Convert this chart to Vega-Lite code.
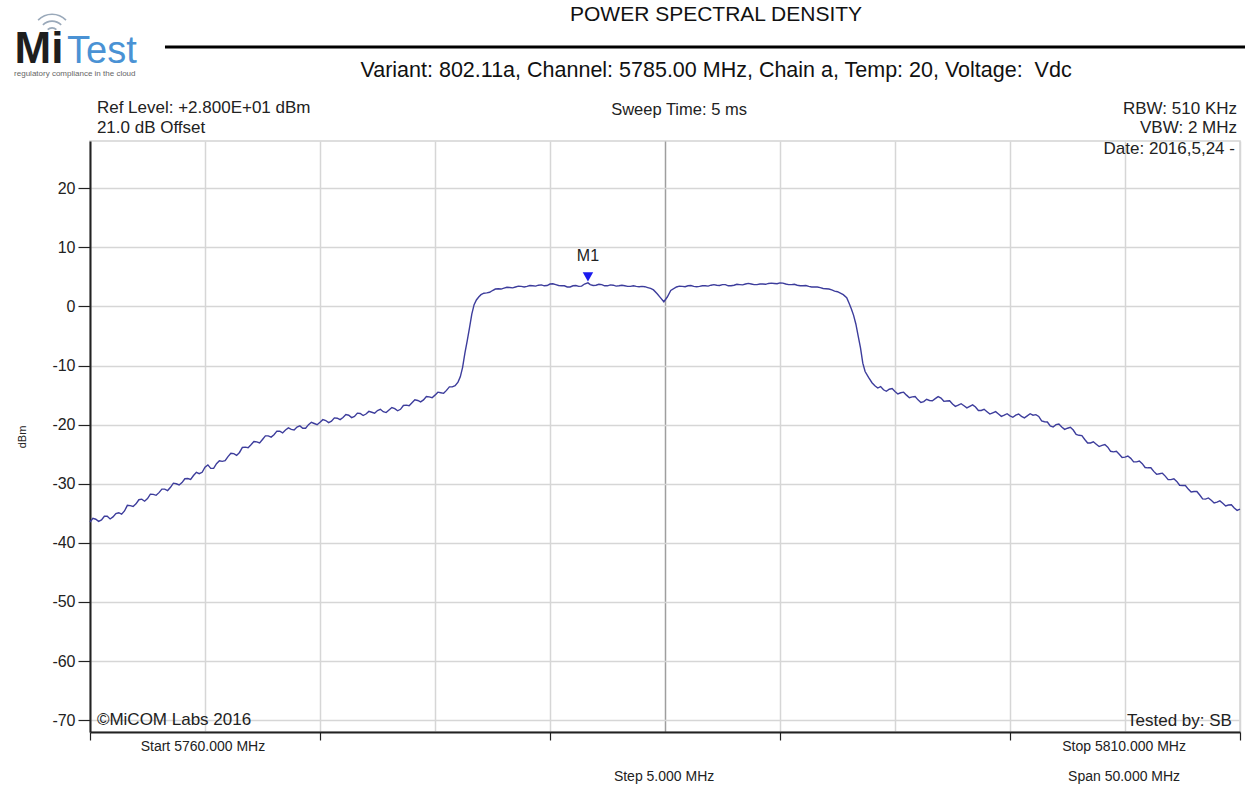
{
  "$schema": "https://vega.github.io/schema/vega-lite/v6.json",
  "width": 1150,
  "height": 591,
  "autosize": {"type": "none"},
  "padding": {"left": 90, "top": 141, "right": 5, "bottom": 56},
  "background": "white",
  "config": {"font": "Liberation Sans", "view": {"stroke": "#d3d3d3", "strokeWidth": 1.5}},
  "encoding": {
    "x": {
      "field": "f", "type": "quantitative",
      "scale": {"domain": [5760, 5810], "nice": false, "zero": false},
      "axis": {
        "values": [5760, 5765, 5770, 5775, 5780, 5785, 5790, 5795, 5800, 5805, 5810],
        "labels": false, "title": null, "grid": true,
        "gridColor": {"condition": {"test": "datum.value === 5785", "value": "#9e9e9e"}, "value": "#d6d6d6"},
        "gridWidth": 1.5,
        "tickSize": 8, "tickColor": "#222", "tickWidth": 1.2,
        "tickOpacity": {"condition": {"test": "datum.value % 10 === 0", "value": 1}, "value": 0},
        "domainColor": "#222", "domainWidth": 2
      }
    },
    "y": {
      "field": "db", "type": "quantitative",
      "scale": {"domain": [-72, 28], "nice": false, "zero": false},
      "axis": {
        "values": [-70, -60, -50, -40, -30, -20, -10, 0, 10, 20],
        "labelExpr": "toString(datum.value)",
        "title": "dBm", "titleFontSize": 11, "titleFontWeight": "normal", "titlePadding": 24, "titleColor": "#222",
        "grid": true, "gridColor": "#d6d6d6", "gridWidth": 1.5,
        "tickSize": 12, "tickColor": "#222", "tickWidth": 1.2,
        "labelFontSize": 16, "labelColor": "#222", "labelPadding": 3,
        "domainColor": "#222", "domainWidth": 2
      }
    }
  },
  "layer": [
    {
      "data": {"values": [
        {"f": 5760.00, "db": -36.5}, {"f": 5760.25, "db": -36.0}, {"f": 5760.50, "db": -36.1}, {"f": 5760.75, "db": -35.5},
        {"f": 5761.00, "db": -35.6}, {"f": 5761.25, "db": -34.9}, {"f": 5761.50, "db": -34.6}, {"f": 5761.75, "db": -33.7},
        {"f": 5762.00, "db": -33.4}, {"f": 5762.25, "db": -32.6}, {"f": 5762.50, "db": -32.5}, {"f": 5762.75, "db": -31.8},
        {"f": 5763.00, "db": -31.5}, {"f": 5763.25, "db": -30.9}, {"f": 5763.50, "db": -30.6}, {"f": 5763.75, "db": -30.0},
        {"f": 5764.00, "db": -29.8}, {"f": 5764.25, "db": -29.1}, {"f": 5764.50, "db": -28.6}, {"f": 5764.75, "db": -28.3},
        {"f": 5765.00, "db": -27.2}, {"f": 5765.25, "db": -27.4}, {"f": 5765.50, "db": -26.6}, {"f": 5765.75, "db": -26.2},
        {"f": 5766.00, "db": -25.4}, {"f": 5766.25, "db": -24.9}, {"f": 5766.50, "db": -24.7}, {"f": 5766.75, "db": -23.8},
        {"f": 5767.00, "db": -23.4}, {"f": 5767.25, "db": -22.9}, {"f": 5767.50, "db": -22.5}, {"f": 5767.75, "db": -21.9},
        {"f": 5768.00, "db": -21.7}, {"f": 5768.25, "db": -21.1}, {"f": 5768.50, "db": -20.9}, {"f": 5768.75, "db": -20.8},
        {"f": 5769.00, "db": -20.4}, {"f": 5769.25, "db": -20.6}, {"f": 5769.50, "db": -20.0}, {"f": 5769.75, "db": -19.8},
        {"f": 5770.00, "db": -19.6}, {"f": 5770.25, "db": -19.3}, {"f": 5770.50, "db": -19.4}, {"f": 5770.75, "db": -18.9},
        {"f": 5771.00, "db": -18.8}, {"f": 5771.25, "db": -18.4}, {"f": 5771.50, "db": -18.6}, {"f": 5771.75, "db": -18.1},
        {"f": 5772.00, "db": -18.2}, {"f": 5772.25, "db": -17.9}, {"f": 5772.50, "db": -17.6}, {"f": 5772.75, "db": -17.8},
        {"f": 5773.00, "db": -17.5}, {"f": 5773.25, "db": -17.3}, {"f": 5773.50, "db": -17.4}, {"f": 5773.75, "db": -16.7},
        {"f": 5774.00, "db": -16.3}, {"f": 5774.25, "db": -15.9}, {"f": 5774.50, "db": -15.8}, {"f": 5774.75, "db": -15.3},
        {"f": 5775.00, "db": -15.0}, {"f": 5775.25, "db": -14.6}, {"f": 5775.50, "db": -14.2}, {"f": 5775.75, "db": -13.6},
        {"f": 5776.00, "db": -12.8}, {"f": 5776.10, "db": -11.9}, {"f": 5776.20, "db": -10.3}, {"f": 5776.30, "db": -7.9},
        {"f": 5776.40, "db": -5.8}, {"f": 5776.50, "db": -3.6}, {"f": 5776.60, "db": -1.3}, {"f": 5776.70, "db": 0.3},
        {"f": 5776.80, "db": 1.1}, {"f": 5776.90, "db": 1.6}, {"f": 5777.00, "db": 2.0}, {"f": 5777.25, "db": 2.3},
        {"f": 5777.50, "db": 2.7}, {"f": 5777.75, "db": 3.0}, {"f": 5778.00, "db": 3.1}, {"f": 5778.25, "db": 3.2},
        {"f": 5778.50, "db": 3.3}, {"f": 5778.75, "db": 3.4}, {"f": 5779.00, "db": 3.4}, {"f": 5779.25, "db": 3.5},
        {"f": 5779.50, "db": 3.6}, {"f": 5779.75, "db": 3.5}, {"f": 5780.00, "db": 3.8}, {"f": 5780.25, "db": 3.7},
        {"f": 5780.50, "db": 3.5}, {"f": 5780.75, "db": 3.3}, {"f": 5781.00, "db": 3.5}, {"f": 5781.25, "db": 3.4},
        {"f": 5781.50, "db": 3.8}, {"f": 5781.65, "db": 4.0}, {"f": 5781.75, "db": 3.7}, {"f": 5782.00, "db": 3.6},
        {"f": 5782.25, "db": 3.7}, {"f": 5782.50, "db": 3.5}, {"f": 5782.75, "db": 3.6}, {"f": 5783.00, "db": 3.5},
        {"f": 5783.25, "db": 3.5}, {"f": 5783.50, "db": 3.4}, {"f": 5783.75, "db": 3.4}, {"f": 5784.00, "db": 3.4},
        {"f": 5784.25, "db": 3.2}, {"f": 5784.50, "db": 2.8}, {"f": 5784.65, "db": 2.2}, {"f": 5784.80, "db": 1.5},
        {"f": 5784.95, "db": 0.8}, {"f": 5785.10, "db": 1.6}, {"f": 5785.25, "db": 2.7}, {"f": 5785.50, "db": 3.3},
        {"f": 5785.75, "db": 3.4}, {"f": 5786.00, "db": 3.5}, {"f": 5786.25, "db": 3.4}, {"f": 5786.50, "db": 3.4},
        {"f": 5786.75, "db": 3.5}, {"f": 5787.00, "db": 3.6}, {"f": 5787.25, "db": 3.6}, {"f": 5787.50, "db": 3.7},
        {"f": 5787.75, "db": 3.5}, {"f": 5788.00, "db": 3.6}, {"f": 5788.25, "db": 3.7}, {"f": 5788.50, "db": 3.8},
        {"f": 5788.75, "db": 3.8}, {"f": 5789.00, "db": 3.7}, {"f": 5789.25, "db": 3.8}, {"f": 5789.50, "db": 3.9},
        {"f": 5789.75, "db": 3.9}, {"f": 5790.00, "db": 4.0}, {"f": 5790.25, "db": 3.8}, {"f": 5790.50, "db": 3.7},
        {"f": 5790.75, "db": 3.6}, {"f": 5791.00, "db": 3.5}, {"f": 5791.25, "db": 3.4}, {"f": 5791.50, "db": 3.3},
        {"f": 5791.75, "db": 3.2}, {"f": 5792.00, "db": 3.0}, {"f": 5792.25, "db": 2.8}, {"f": 5792.50, "db": 2.5},
        {"f": 5792.75, "db": 2.0}, {"f": 5792.90, "db": 1.5}, {"f": 5793.00, "db": 0.6}, {"f": 5793.10, "db": -0.4},
        {"f": 5793.20, "db": -1.5}, {"f": 5793.30, "db": -3.0}, {"f": 5793.40, "db": -5.0}, {"f": 5793.50, "db": -7.0},
        {"f": 5793.60, "db": -9.6}, {"f": 5793.70, "db": -11.0}, {"f": 5793.85, "db": -12.0}, {"f": 5794.00, "db": -12.9},
        {"f": 5794.25, "db": -13.8}, {"f": 5794.50, "db": -14.1}, {"f": 5794.75, "db": -14.0}, {"f": 5795.00, "db": -14.4},
        {"f": 5795.25, "db": -14.6}, {"f": 5795.50, "db": -15.0}, {"f": 5795.75, "db": -15.3}, {"f": 5796.00, "db": -15.8},
        {"f": 5796.25, "db": -16.1}, {"f": 5796.50, "db": -15.9}, {"f": 5796.75, "db": -15.6}, {"f": 5797.00, "db": -15.5},
        {"f": 5797.25, "db": -16.0}, {"f": 5797.50, "db": -16.5}, {"f": 5797.75, "db": -16.7}, {"f": 5798.00, "db": -16.8},
        {"f": 5798.25, "db": -16.9}, {"f": 5798.50, "db": -17.0}, {"f": 5798.75, "db": -17.6}, {"f": 5799.00, "db": -17.8},
        {"f": 5799.25, "db": -18.0}, {"f": 5799.50, "db": -18.2}, {"f": 5799.75, "db": -18.4}, {"f": 5800.00, "db": -18.5},
        {"f": 5800.25, "db": -18.4}, {"f": 5800.50, "db": -18.6}, {"f": 5800.75, "db": -18.5}, {"f": 5801.00, "db": -18.4},
        {"f": 5801.25, "db": -18.6}, {"f": 5801.50, "db": -19.5}, {"f": 5801.75, "db": -20.2}, {"f": 5802.00, "db": -20.0},
        {"f": 5802.25, "db": -20.4}, {"f": 5802.50, "db": -20.6}, {"f": 5802.75, "db": -20.9}, {"f": 5803.00, "db": -21.8},
        {"f": 5803.25, "db": -22.5}, {"f": 5803.50, "db": -23.1}, {"f": 5803.75, "db": -23.3}, {"f": 5804.00, "db": -23.5},
        {"f": 5804.25, "db": -23.8}, {"f": 5804.50, "db": -24.6}, {"f": 5804.75, "db": -25.0}, {"f": 5805.00, "db": -25.5},
        {"f": 5805.25, "db": -25.7}, {"f": 5805.50, "db": -26.3}, {"f": 5805.75, "db": -26.6}, {"f": 5806.00, "db": -27.3},
        {"f": 5806.25, "db": -27.9}, {"f": 5806.50, "db": -28.3}, {"f": 5806.75, "db": -28.7}, {"f": 5807.00, "db": -29.3},
        {"f": 5807.25, "db": -29.6}, {"f": 5807.50, "db": -30.3}, {"f": 5807.75, "db": -30.9}, {"f": 5808.00, "db": -31.3},
        {"f": 5808.25, "db": -31.9}, {"f": 5808.50, "db": -32.6}, {"f": 5808.75, "db": -32.8}, {"f": 5809.00, "db": -33.1},
        {"f": 5809.25, "db": -33.3}, {"f": 5809.50, "db": -33.6}, {"f": 5809.75, "db": -34.1}, {"f": 5810.00, "db": -34.3},
        {"f": 5760.125, "db": -35.85}, {"f": 5760.375, "db": -36.35}, {"f": 5760.625, "db": -35.5}, {"f": 5760.875, "db": -35.95},
        {"f": 5761.125, "db": -35.05}, {"f": 5761.375, "db": -35.15}, {"f": 5761.625, "db": -33.65}, {"f": 5761.875, "db": -33.85},
        {"f": 5762.125, "db": -32.7}, {"f": 5762.375, "db": -32.95}, {"f": 5762.625, "db": -31.75}, {"f": 5762.875, "db": -31.95},
        {"f": 5763.125, "db": -30.9}, {"f": 5763.375, "db": -31.15}, {"f": 5763.625, "db": -29.9}, {"f": 5763.875, "db": -30.2},
        {"f": 5764.125, "db": -29.15}, {"f": 5764.375, "db": -29.25}, {"f": 5764.625, "db": -28.05}, {"f": 5764.875, "db": -28.05},
        {"f": 5765.125, "db": -26.8}, {"f": 5765.375, "db": -27.4}, {"f": 5765.625, "db": -26.1}, {"f": 5765.875, "db": -26.1},
        {"f": 5766.125, "db": -24.85}, {"f": 5766.375, "db": -25.2}, {"f": 5766.625, "db": -23.85}, {"f": 5766.875, "db": -23.9},
        {"f": 5767.125, "db": -22.85}, {"f": 5767.375, "db": -23.1}, {"f": 5767.625, "db": -21.9}, {"f": 5767.875, "db": -22.1},
        {"f": 5768.125, "db": -21.1}, {"f": 5768.375, "db": -21.4}, {"f": 5768.625, "db": -20.55}, {"f": 5768.875, "db": -20.9},
        {"f": 5769.125, "db": -20.2}, {"f": 5769.375, "db": -20.6}, {"f": 5769.625, "db": -19.6}, {"f": 5769.875, "db": -20.0},
        {"f": 5770.125, "db": -19.15}, {"f": 5770.375, "db": -19.65}, {"f": 5770.625, "db": -18.85}, {"f": 5770.875, "db": -19.15},
        {"f": 5771.125, "db": -18.3}, {"f": 5771.375, "db": -18.8}, {"f": 5771.625, "db": -18.05}, {"f": 5771.875, "db": -18.45},
        {"f": 5772.125, "db": -17.75}, {"f": 5772.375, "db": -18.05}, {"f": 5772.625, "db": -17.4}, {"f": 5772.875, "db": -17.95},
        {"f": 5773.125, "db": -17.1}, {"f": 5773.375, "db": -17.65}, {"f": 5773.625, "db": -16.75}, {"f": 5773.875, "db": -16.8},
        {"f": 5774.125, "db": -15.8}, {"f": 5774.375, "db": -16.15}, {"f": 5774.625, "db": -15.25}, {"f": 5774.875, "db": -15.45},
        {"f": 5775.125, "db": -14.5}, {"f": 5775.375, "db": -14.7}, {"f": 5775.625, "db": -13.6}, {"f": 5775.875, "db": -13.4},
        {"f": 5777.125, "db": 2.25}, {"f": 5777.375, "db": 2.4}, {"f": 5777.625, "db": 2.95}, {"f": 5777.875, "db": 2.95},
        {"f": 5778.125, "db": 3.25}, {"f": 5778.375, "db": 3.15}, {"f": 5778.625, "db": 3.45}, {"f": 5778.875, "db": 3.3},
        {"f": 5779.125, "db": 3.55}, {"f": 5779.375, "db": 3.45}, {"f": 5779.625, "db": 3.65}, {"f": 5779.875, "db": 3.55},
        {"f": 5780.125, "db": 3.85}, {"f": 5780.375, "db": 3.55}, {"f": 5780.625, "db": 3.5}, {"f": 5780.875, "db": 3.3},
        {"f": 5781.125, "db": 3.55}, {"f": 5781.375, "db": 3.45}, {"f": 5781.875, "db": 3.55}, {"f": 5782.125, "db": 3.75},
        {"f": 5782.375, "db": 3.5}, {"f": 5782.625, "db": 3.65}, {"f": 5782.875, "db": 3.45}, {"f": 5783.125, "db": 3.6},
        {"f": 5783.375, "db": 3.4}, {"f": 5783.625, "db": 3.5}, {"f": 5783.875, "db": 3.35}, {"f": 5784.125, "db": 3.35},
        {"f": 5784.375, "db": 3.05}, {"f": 5785.625, "db": 3.45}, {"f": 5785.875, "db": 3.35}, {"f": 5786.125, "db": 3.55},
        {"f": 5786.375, "db": 3.35}, {"f": 5786.625, "db": 3.5}, {"f": 5786.875, "db": 3.45}, {"f": 5787.125, "db": 3.7},
        {"f": 5787.375, "db": 3.55}, {"f": 5787.625, "db": 3.7}, {"f": 5787.875, "db": 3.5}, {"f": 5788.125, "db": 3.75},
        {"f": 5788.375, "db": 3.65}, {"f": 5788.625, "db": 3.9}, {"f": 5788.875, "db": 3.7}, {"f": 5789.125, "db": 3.8},
        {"f": 5789.375, "db": 3.75}, {"f": 5789.625, "db": 3.95}, {"f": 5789.875, "db": 3.85}, {"f": 5790.125, "db": 3.95},
        {"f": 5790.375, "db": 3.7}, {"f": 5790.625, "db": 3.75}, {"f": 5790.875, "db": 3.5}, {"f": 5791.125, "db": 3.55},
        {"f": 5791.375, "db": 3.3}, {"f": 5791.625, "db": 3.3}, {"f": 5791.875, "db": 3.05}, {"f": 5792.125, "db": 2.95},
        {"f": 5792.375, "db": 2.6},
        {"f": 5794.125, "db": -13.4}, {"f": 5794.375, "db": -13.55}, {"f": 5794.625, "db": -14.35}, {"f": 5794.875, "db": -13.9},
        {"f": 5795.125, "db": -14.8}, {"f": 5795.375, "db": -14.5}, {"f": 5795.625, "db": -15.45}, {"f": 5795.875, "db": -15.25},
        {"f": 5796.125, "db": -16.25}, {"f": 5796.375, "db": -15.7}, {"f": 5796.625, "db": -15.95}, {"f": 5796.875, "db": -15.25},
        {"f": 5797.125, "db": -16.05}, {"f": 5797.375, "db": -15.95}, {"f": 5797.625, "db": -16.9}, {"f": 5797.875, "db": -16.45},
        {"f": 5798.125, "db": -17.15}, {"f": 5798.375, "db": -16.65}, {"f": 5798.625, "db": -17.6}, {"f": 5798.875, "db": -17.4},
        {"f": 5799.125, "db": -18.2}, {"f": 5799.375, "db": -17.8}, {"f": 5799.625, "db": -18.6}, {"f": 5799.875, "db": -18.15},
        {"f": 5800.125, "db": -18.75}, {"f": 5800.375, "db": -18.2}, {"f": 5800.625, "db": -18.85}, {"f": 5800.875, "db": -18.15},
        {"f": 5801.125, "db": -18.3}, {"f": 5801.375, "db": -19.35}, {"f": 5801.625, "db": -19.55}, {"f": 5801.875, "db": -20.4},
        {"f": 5802.125, "db": -19.9}, {"f": 5802.375, "db": -20.8}, {"f": 5802.625, "db": -20.45}, {"f": 5802.875, "db": -21.65},
        {"f": 5803.125, "db": -21.85}, {"f": 5803.375, "db": -23.1}, {"f": 5803.625, "db": -22.9}, {"f": 5803.875, "db": -23.7},
        {"f": 5804.125, "db": -23.35}, {"f": 5804.375, "db": -24.5}, {"f": 5804.625, "db": -24.5}, {"f": 5804.875, "db": -25.55},
        {"f": 5805.125, "db": -25.3}, {"f": 5805.375, "db": -26.3}, {"f": 5805.625, "db": -26.15}, {"f": 5805.875, "db": -27.25},
        {"f": 5806.125, "db": -27.3}, {"f": 5806.375, "db": -28.4}, {"f": 5806.625, "db": -28.2}, {"f": 5806.875, "db": -29.3},
        {"f": 5807.125, "db": -29.15}, {"f": 5807.375, "db": -30.25}, {"f": 5807.625, "db": -30.3}, {"f": 5807.875, "db": -31.4},
        {"f": 5808.125, "db": -31.3}, {"f": 5808.375, "db": -32.55}, {"f": 5808.625, "db": -32.4}, {"f": 5808.875, "db": -33.25},
        {"f": 5809.125, "db": -32.9}, {"f": 5809.375, "db": -33.75}, {"f": 5809.625, "db": -33.55}, {"f": 5809.875, "db": -34.5}
      ]},
      "mark": {"type": "line", "color": "#3d3d9c", "strokeWidth": 1.4, "interpolate": "linear"}
    },
    {
      "data": {"values": [{"f": 5781.65, "db": 4.0, "t": "M1"}]},
      "mark": {"type": "point", "shape": "triangle-down", "filled": true, "color": "#1a1aee", "opacity": 1, "size": 110, "yOffset": -6}
    },
    {
      "data": {"values": [{"f": 5781.65, "db": 4.0, "t": "M1"}]},
      "mark": {"type": "text", "fontSize": 16, "color": "#222", "yOffset": -27, "baseline": "middle", "align": "center"},
      "encoding": {"text": {"field": "t"}}
    },
    {
      "data": {"values": [
        {"f": 5760.30, "db": 33.6, "t": "Ref Level: +2.800E+01 dBm"},
        {"f": 5760.30, "db": 30.2, "t": "21.0 dB Offset"},
        {"f": 5760.30, "db": -70.0, "t": "©MiCOM Labs 2016"}
      ]},
      "mark": {"type": "text", "fontSize": 17, "color": "#222", "align": "left", "baseline": "middle"},
      "encoding": {"text": {"field": "t"}}
    },
    {
      "data": {"values": [
        {"f": 5809.87, "db": 33.4, "t": "RBW: 510 KHz"},
        {"f": 5809.87, "db": 30.2, "t": "VBW: 2 MHz"},
        {"f": 5809.78, "db": 26.65, "t": "Date: 2016,5,24 -"},
        {"f": 5809.65, "db": -70.1, "t": "Tested by: SB"}
      ]},
      "mark": {"type": "text", "fontSize": 17, "color": "#222", "align": "right", "baseline": "middle"},
      "encoding": {"text": {"field": "t"}}
    },
    {
      "data": {"values": [
        {"f": 5785.61, "db": 33.25, "t": "Sweep Time: 5 ms"}
      ]},
      "mark": {"type": "text", "fontSize": 16.5, "color": "#222", "align": "center", "baseline": "middle"},
      "encoding": {"text": {"field": "t"}}
    },
    {
      "data": {"values": [
        {"f": 5764.91, "db": -74.5, "t": "Start 5760.000 MHz"},
        {"f": 5804.96, "db": -74.5, "t": "Stop 5810.000 MHz"},
        {"f": 5784.96, "db": -79.6, "t": "Step 5.000 MHz"},
        {"f": 5804.96, "db": -79.6, "t": "Span 50.000 MHz"}
      ]},
      "mark": {"type": "text", "fontSize": 14, "color": "#222", "align": "center", "baseline": "middle"},
      "encoding": {"text": {"field": "t"}}
    },
    {
      "data": {"values": [
        {"f": 5787.22, "db": 49.3, "t": "POWER SPECTRAL DENSITY"}
      ]},
      "mark": {"type": "text", "fontSize": 21, "color": "#111", "align": "center", "baseline": "middle"},
      "encoding": {"text": {"field": "t"}}
    },
    {
      "data": {"values": [
        {"f": 5787.22, "db": 39.84, "t": "Variant: 802.11a, Channel: 5785.00 MHz, Chain a, Temp: 20, Voltage: \u00a0Vdc"}
      ]},
      "mark": {"type": "text", "fontSize": 21.5, "color": "#111", "align": "center", "baseline": "middle"},
      "encoding": {"text": {"field": "t"}}
    },
    {
      "data": {"values": [{"f": 5763.26, "f2": 5810.22, "db": 43.9}]},
      "mark": {"type": "rule", "color": "#000", "strokeWidth": 3},
      "encoding": {"x2": {"field": "f2"}}
    },
    {
      "data": {"values": [{"f": 5756.72, "db": 41.2, "t": "Mi"}]},
      "mark": {"type": "text", "fontSize": 44, "fontWeight": "bold", "color": "#1e1e1e", "align": "left", "baseline": "alphabetic"},
      "encoding": {"text": {"field": "t"}}
    },
    {
      "data": {"values": [{"f": 5759.0, "db": 41.2, "t": "Test"}]},
      "mark": {"type": "text", "fontSize": 38, "color": "#4a92d4", "align": "left", "baseline": "alphabetic"},
      "encoding": {"text": {"field": "t"}}
    },
    {
      "data": {"values": [{"f": 5756.70, "db": 39.3, "t": "regulatory compliance in the cloud"}]},
      "mark": {"type": "text", "fontSize": 8, "color": "#666", "align": "left", "baseline": "middle"},
      "encoding": {"text": {"field": "t"}}
    },
    {
      "data": {"values": [{"f": 5758.35, "db": 46.1, "t": "wifi"}]},
      "mark": {"type": "point", "filled": false, "color": "#9aa9ba", "strokeWidth": 1.6, "opacity": 1, "size": 1900,
               "shape": "M -0.2 -0.2 A 0.28 0.28 0 0 1 0.2 -0.2 M -0.42 -0.42 A 0.6 0.6 0 0 1 0.42 -0.42 M -0.64 -0.64 A 0.9 0.9 0 0 1 0.64 -0.64"}
    }
  ]
}
